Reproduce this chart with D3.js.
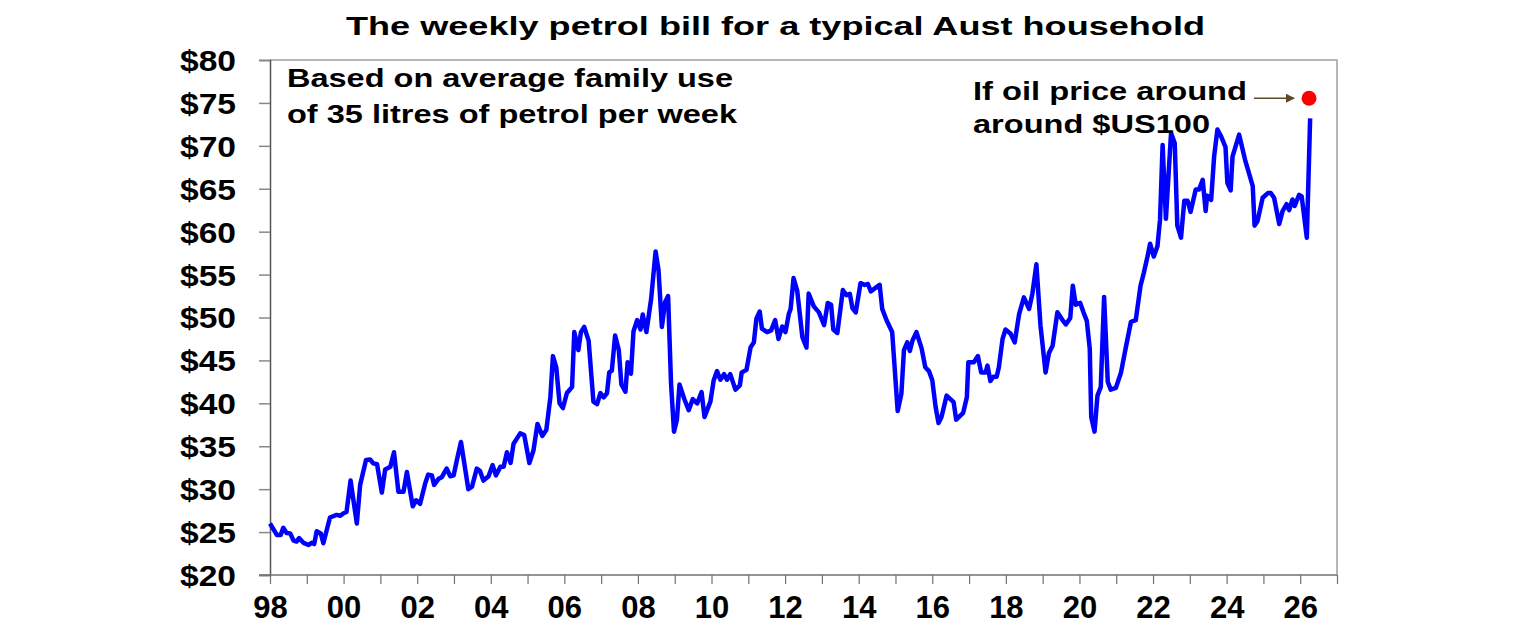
<!DOCTYPE html>
<html>
<head>
<meta charset="utf-8">
<script src="https://cdn.jsdelivr.net/npm/d3@7"></script>
<style>
  body { margin: 0; background: #fff; }
  text { font-family: "Liberation Sans", Arial, sans-serif; font-weight: bold; fill: #000; }
</style>
</head>
<body>
<div id="plot"></div>
<script>
// decimal years and weekly petrol bill ($)
const years = [
  1998.00,1998.19,1998.29,1998.36,1998.45,1998.55,1998.64,1998.72,1998.79,1998.91,
  1999.05,1999.13,1999.20,1999.27,1999.38,1999.45,1999.63,1999.81,1999.91,2000.00,
  2000.08,2000.19,2000.36,2000.45,2000.61,2000.72,2000.81,2000.91,2001.04,2001.13,
  2001.27,2001.37,2001.49,2001.63,2001.72,2001.88,2001.97,2002.08,2002.22,2002.30,
  2002.40,2002.46,2002.58,2002.67,2002.80,2002.90,2002.99,2003.08,2003.19,2003.39,
  2003.49,2003.62,2003.71,2003.80,2003.94,2004.05,2004.14,2004.26,2004.35,2004.44,
  2004.54,2004.62,2004.80,2004.91,2005.05,2005.16,2005.27,2005.40,2005.51,2005.62,
  2005.69,2005.78,2005.87,2005.96,2006.07,2006.21,2006.27,2006.38,2006.45,2006.54,
  2006.66,2006.79,2006.89,2006.98,2007.07,2007.16,2007.22,2007.29,2007.38,2007.48,
  2007.55,2007.66,2007.72,2007.81,2007.88,2007.98,2008.07,2008.13,2008.23,2008.36,
  2008.48,2008.56,2008.65,2008.74,2008.82,2008.90,2008.98,2009.06,2009.13,2009.26,
  2009.38,2009.49,2009.61,2009.73,2009.81,2009.97,2010.06,2010.15,2010.24,2010.34,
  2010.42,2010.51,2010.65,2010.77,2010.82,2010.95,2011.06,2011.15,2011.22,2011.31,
  2011.37,2011.51,2011.62,2011.73,2011.82,2011.92,2012.01,2012.10,2012.15,2012.23,
  2012.33,2012.47,2012.58,2012.64,2012.78,2012.92,2013.06,2013.16,2013.25,2013.31,
  2013.42,2013.57,2013.67,2013.76,2013.83,2013.92,2014.05,2014.16,2014.25,2014.33,
  2014.41,2014.57,2014.64,2014.76,2014.91,2015.06,2015.16,2015.23,2015.32,2015.39,
  2015.46,2015.57,2015.71,2015.81,2015.91,2016.00,2016.09,2016.17,2016.25,2016.39,
  2016.58,2016.65,2016.84,2016.94,2016.98,2017.13,2017.24,2017.33,2017.45,2017.50,
  2017.58,2017.66,2017.75,2017.81,2017.91,2017.99,2018.13,2018.24,2018.36,2018.49,
  2018.63,2018.72,2018.83,2018.94,2019.08,2019.17,2019.27,2019.40,2019.54,2019.63,
  2019.75,2019.82,2019.90,2020.02,2020.11,2020.20,2020.28,2020.32,2020.41,2020.49,
  2020.58,2020.67,2020.77,2020.85,2020.99,2021.13,2021.26,2021.40,2021.53,2021.66,
  2021.75,2021.85,2021.92,2022.02,2022.12,2022.19,2022.26,2022.35,2022.49,2022.59,
  2022.66,2022.76,2022.85,2022.94,2023.02,2023.16,2023.25,2023.35,2023.43,2023.47,
  2023.58,2023.66,2023.75,2023.85,2023.97,2024.02,2024.11,2024.16,2024.34,2024.50,
  2024.71,2024.76,2024.84,2024.98,2025.12,2025.20,2025.29,2025.43,2025.52,2025.63,
  2025.70,2025.79,2025.85,2025.97,2026.04,2026.18,2026.27
];
const bill = [
  26.0,24.65,24.65,25.5,24.9,24.85,24.0,23.9,24.3,23.75,
  23.5,23.75,23.6,25.1,24.85,23.7,26.7,27.0,26.9,27.2,
  27.35,31.0,26.0,30.5,33.4,33.45,33.0,32.9,29.6,32.3,
  32.6,34.3,29.7,29.7,32.0,28.0,28.7,28.3,30.7,31.7,
  31.6,30.5,31.2,31.4,32.4,31.5,31.6,33.4,35.5,30.0,
  30.3,32.4,32.1,31.0,31.5,32.8,31.6,32.6,32.6,34.3,
  33.05,35.3,36.5,36.3,33.05,34.5,37.6,36.2,36.9,40.7,
  45.5,44.2,40.0,39.45,41.2,41.9,48.3,46.2,48.3,48.9,
  47.3,40.2,39.9,41.2,40.7,41.2,43.6,43.8,47.9,46.2,
  42.2,41.35,44.8,43.45,48.4,49.7,48.6,50.35,48.3,52.2,
  57.7,55.5,48.9,51.8,52.5,42.3,36.7,38.1,42.2,40.5,
  39.2,40.5,40.0,41.3,38.4,40.2,42.7,43.75,42.75,43.4,
  42.75,43.4,41.6,42.1,43.6,43.9,46.5,47.1,49.85,50.7,
  48.7,48.3,48.5,49.7,47.5,48.95,48.3,50.4,51.0,54.6,
  53.1,47.7,46.5,52.8,51.3,50.6,49.1,51.7,51.5,48.6,
  48.2,53.2,52.6,52.75,51.1,50.6,54.0,53.8,53.9,53.05,
  53.3,53.8,51.0,49.65,48.3,39.1,41.1,46.2,47.1,46.1,
  47.3,48.3,46.4,44.2,43.75,42.7,39.6,37.7,38.4,40.9,
  40.15,38.1,38.9,40.7,44.8,44.8,45.5,43.6,43.6,44.4,
  42.6,43.1,43.1,44.2,47.5,48.6,48.1,47.1,50.4,52.35,
  51.0,52.75,56.2,49.1,43.6,45.85,46.7,50.6,49.7,49.2,
  49.95,53.7,51.5,51.7,50.6,49.6,46.4,38.4,36.7,40.9,
  41.9,52.4,42.5,41.6,41.8,43.6,46.5,49.5,49.7,53.7,
  55.2,57.1,58.6,57.1,58.3,61.4,70.1,61.5,71.5,70.3,
  60.7,59.3,63.6,63.6,62.3,64.9,64.9,66.05,62.4,64.2,
  63.7,68.75,71.9,71.1,69.85,65.7,64.8,68.75,71.3,68.4,
  65.3,60.7,61.25,63.95,64.5,64.5,63.95,60.9,62.4,63.2,
  62.5,63.75,63.0,64.3,64.1,59.3,73.2
];
const scenario = [2026.24, 75.55]; // if oil price around $US100
const yTicks = [20, 25, 30, 35, 40, 45, 50, 55, 60, 65, 70, 75, 80];
const xTickYears = d3.range(1998, 2028);

const W = 1536, H = 630;
const svg = d3.select("#plot").append("svg").attr("width", W).attr("height", H);

const x = d3.scaleLinear().domain([1998, 2027]).range([270, 1337]);
const y = d3.scaleLinear().domain([20, 80]).range([575, 60]);

function label(txt, px, py, size, len) {
  svg.append("text").attr("x", px).attr("y", py).style("font-size", size + "px")
    .attr("textLength", len).attr("lengthAdjust", "spacingAndGlyphs").text(txt);
}

// title
label("The weekly petrol bill for a typical Aust household", 346, 35, 26, 859);

// frame (top + right)
svg.append("path")
  .attr("d", `M${x.range()[0]},${y(80)}H${x.range()[1]}V${y(20)}`)
  .attr("fill", "none").attr("stroke", "#a0a0a0").attr("stroke-width", 1.5);

// y axis
const yAxis = svg.append("g").attr("transform", `translate(${x.range()[0]},0)`)
  .call(d3.axisLeft(y).tickValues(yTicks).tickSize(11).tickPadding(23).tickFormat(d => "$" + d));
yAxis.select(".domain").attr("stroke", "#555").attr("stroke-width", 1.5);
yAxis.selectAll(".tick line").attr("stroke", "#888").attr("stroke-width", 1.5);
yAxis.selectAll("text").style("font-size", "29px").style("font-family", "Liberation Sans, Arial")
  .style("font-weight", "bold").attr("dy", "0.36em")
  .attr("textLength", 56).attr("lengthAdjust", "spacingAndGlyphs");

// x axis
const xAxis = svg.append("g").attr("transform", `translate(0,${y(20)})`)
  .call(d3.axisBottom(x).tickValues(xTickYears).tickSize(9).tickPadding(12)
    .tickFormat(d => (d % 2 === 0) ? String(d).slice(2) : ""));
xAxis.select(".domain").attr("stroke", "#707070").attr("stroke-width", 1.5)
  .attr("d", `M259,0H${x.range()[1]}`);
xAxis.selectAll(".tick line").attr("stroke", "#707070").attr("stroke-width", 1.2);
xAxis.selectAll("text").style("font-size", "31px").style("font-family", "Liberation Sans, Arial").style("font-weight", "bold");

// line
const pts = years.map((t, i) => [t, bill[i]]);
svg.append("path").datum(pts)
  .attr("fill", "none").attr("stroke", "#0000ff").attr("stroke-width", 4.5)
  .attr("stroke-linejoin", "round")
  .attr("d", d3.line().x(d => x(d[0])).y(d => y(d[1])));

// scenario dot
svg.append("circle").attr("cx", x(scenario[0])).attr("cy", y(scenario[1])).attr("r", 7.5).attr("fill", "#ff0000");

// arrow
svg.append("defs").append("marker").attr("id", "arr").attr("viewBox", "0 0 10 10")
  .attr("refX", 9).attr("refY", 5).attr("markerWidth", 6).attr("markerHeight", 6).attr("orient", "auto")
  .append("path").attr("d", "M0,0L10,5L0,10z").attr("fill", "#5a4a2a");
svg.append("line").attr("x1", x(scenario[0]) - 55).attr("x2", x(scenario[0]) - 15)
  .attr("y1", y(scenario[1])).attr("y2", y(scenario[1]))
  .attr("stroke", "#5a4a2a").attr("stroke-width", 1.5).attr("marker-end", "url(#arr)");

// annotations
label("Based on average family use", 287, 87, 25, 446);
label("of 35 litres of petrol per week", 287, 123, 25, 450);
label("If oil price around", 973, 100, 25, 274);
label("around $US100", 973, 133, 25, 237);
</script>
</body>
</html>
